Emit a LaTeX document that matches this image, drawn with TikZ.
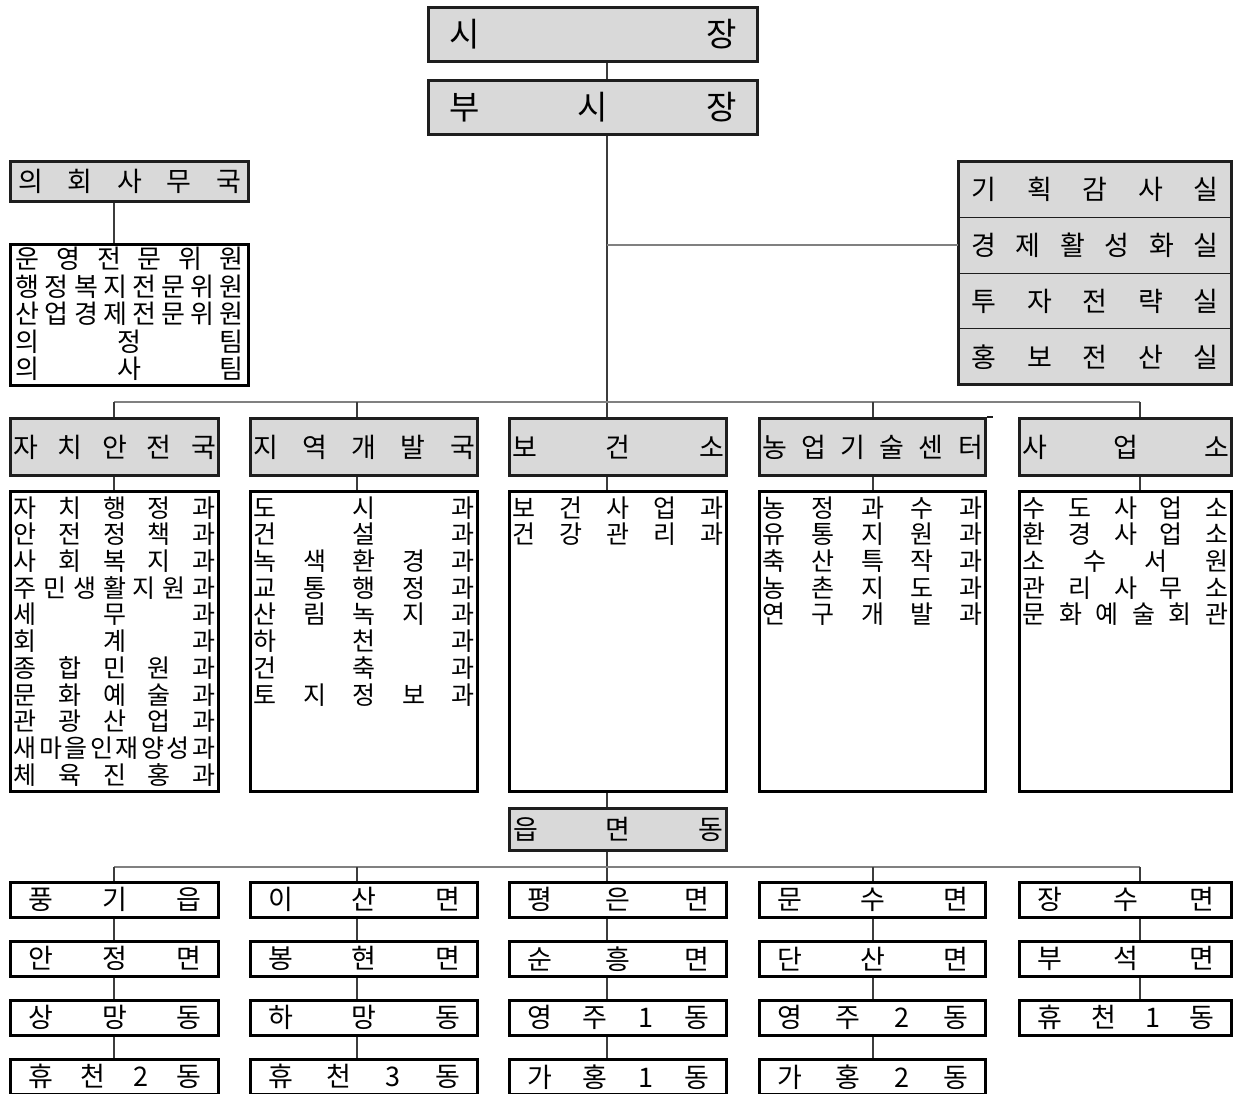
\documentclass[tikz,border=0pt]{standalone}
\usepackage{fontspec}
\setmainfont{Noto Sans CJK KR}
\usetikzlibrary{
  positioning,
  fit
}
\definecolor{orgFill}{RGB}{217,217,217}
\definecolor{orgEdge}{RGB}{30,30,30}
\definecolor{orgLink}{RGB}{60,60,60}
\definecolor{orgBus}{RGB}{128,128,128}

% spread the letters of a label over a fixed width
\def\sprdA#1{#1\sprdB}
\def\sprdB#1{\ifx\relax#1\else\hfill#1\expandafter\sprdB\fi}
\newcommand\sprd[2]{\hbox to #1{\sprdA#2\relax}}
\newcommand\rowtxt[1]{\sprd{\hsize}{#1}}
\newcommand\listtext[3]{\vbox to #2{\hsize=#1\relax #3\vss}}

\tikzset{
  topbox/.style={
    draw=orgEdge,
    line width=2.6pt,
    fill=orgFill,
    inner sep=0pt,
    anchor=north west,
    minimum width=329.4pt,
    minimum height=54.4pt,
    font=\fontsize{33}{35}\selectfont
  },
  headbox/.style={
    draw=orgEdge,
    line width=2.6pt,
    fill=orgFill,
    inner sep=0pt,
    anchor=north west,
    minimum height=57.4pt,
    font=\fontsize{27}{29}\selectfont
  },
  listbox/.style={
    draw=black,
    line width=2.6pt,
    fill=white,
    inner sep=0pt,
    minimum height=300.4pt,
    font=\fontsize{25}{26.7}\selectfont
  },
  officerow/.style={
    draw=orgEdge,
    line width=0.9pt,
    fill=orgFill,
    inner sep=0pt,
    outer sep=0pt,
    minimum width=273.4pt,
    minimum height=55.85pt,
    font=\fontsize{27}{29}\selectfont
  },
  officeframe/.style={
    draw=orgEdge,
    line width=2.6pt,
    inner sep=0pt
  },
  townbox/.style={
    draw=black,
    line width=2.6pt,
    fill=white,
    inner sep=0pt,
    minimum height=34.9pt,
    font=\fontsize{27}{29}\selectfont
  },
  orglink/.style={
    draw=orgLink,
    line width=1.1pt
  },
  busline/.style={
    draw=orgBus,
    line width=1.5pt
  }
}

\begin{document}
\begin{tikzpicture}[x=1pt, y=-1pt]
  \path[use as bounding box, fill=white] (0,0) rectangle (1236,1094);

  % mayor and deputy
  \node[topbox] (mayor) at (427,6) {\sprd{288pt}{시장}};
  \node[topbox] (vicemayor) at (427,79) {\sprd{288pt}{부시장}};

  % council office
  \node[headbox, minimum width=238.4pt, minimum height=40.4pt] (council) at (9,160) {\sprd{223pt}{의회사무국}};
  \node[listbox, anchor=north west, minimum width=238.4pt, minimum height=141.4pt,
    font=\fontsize{26}{27.5}\selectfont] (councilstaff) at (9,243)
    {\listtext{227pt}{136pt}{\rowtxt{운영전문위원}\rowtxt{행정복지전문위원}\rowtxt{산업경제전문위원}\rowtxt{의정팀}\rowtxt{의사팀}}};

  % offices under the deputy
  \node[officerow, anchor=north west] (audit) at (958.3,161.3) {\sprd{247pt}{기획감사실}};
  \node[officerow, below=0pt of audit] (economy) {\sprd{247pt}{경제활성화실}};
  \node[officerow, below=0pt of economy] (invest) {\sprd{247pt}{투자전략실}};
  \node[officerow, below=0pt of invest] (promo) {\sprd{247pt}{홍보전산실}};
  \node[officeframe, fit=(audit)(promo)] (offices) {};

  % bureaus
  \node[headbox, minimum width=208.4pt] (safety) at (9,417) {\sprd{203pt}{자치안전국}};
  \node[headbox, minimum width=227.4pt] (regional) at (249,417) {\sprd{222pt}{지역개발국}};
  \node[headbox, minimum width=217.4pt] (health) at (508,417) {\sprd{212pt}{보건소}};
  \node[headbox, minimum width=226.4pt] (agri) at (758,417) {\sprd{221pt}{농업기술센터}};
  \node[headbox, minimum width=212.4pt] (works) at (1018,417) {\sprd{207pt}{사업소}};
  \draw[orgEdge, line width=2.6pt] (agri.north east) -- ++(6,0);

  \node[listbox, minimum width=208.4pt, below=13pt of safety] (safetylist)
    {\listtext{202pt}{290pt}{\rowtxt{자치행정과}\rowtxt{안전정책과}\rowtxt{사회복지과}\rowtxt{주민생활지원과}\rowtxt{세무과}\rowtxt{회계과}\rowtxt{종합민원과}\rowtxt{문화예술과}\rowtxt{관광산업과}\rowtxt{새마을인재양성과}\rowtxt{체육진홍과}}};
  \node[listbox, minimum width=227.4pt, below=13pt of regional] (regionallist)
    {\listtext{221pt}{290pt}{\rowtxt{도시과}\rowtxt{건설과}\rowtxt{녹색환경과}\rowtxt{교통행정과}\rowtxt{산림녹지과}\rowtxt{하천과}\rowtxt{건축과}\rowtxt{토지정보과}}};
  \node[listbox, minimum width=217.4pt, below=13pt of health] (healthlist)
    {\listtext{211pt}{290pt}{\rowtxt{보건사업과}\rowtxt{건강관리과}}};
  \node[listbox, minimum width=226.4pt, below=13pt of agri] (agrilist)
    {\listtext{220pt}{290pt}{\rowtxt{농정과수과}\rowtxt{유통지원과}\rowtxt{축산특작과}\rowtxt{농촌지도과}\rowtxt{연구개발과}}};
  \node[listbox, minimum width=212.4pt, below=13pt of works] (workslist)
    {\listtext{206pt}{290pt}{\rowtxt{수도사업소}\rowtxt{환경사업소}\rowtxt{소수서원}\rowtxt{관리사무소}\rowtxt{문화예술회관}}};

  % towns and districts
  \node[headbox, minimum width=217.4pt, minimum height=42.4pt] (towns) at (508,807) {\sprd{210pt}{읍면동}};

  \node[townbox, anchor=north west, minimum width=208.4pt] (pungi) at (9,881) {\sprd{173pt}{풍기읍}};
  \node[townbox, minimum width=208.4pt, below=21.5pt of pungi] (anjeong) {\sprd{173pt}{안정면}};
  \node[townbox, minimum width=208.4pt, below=21.5pt of anjeong] (sangmang) {\sprd{173pt}{상망동}};
  \node[townbox, minimum width=208.4pt, below=21.5pt of sangmang] (hyucheonB) {\sprd{173pt}{휴천2동}};

  \node[townbox, anchor=north west, minimum width=227.4pt] (isan) at (249,881) {\sprd{192pt}{이산면}};
  \node[townbox, minimum width=227.4pt, below=21.5pt of isan] (bonghyeon) {\sprd{192pt}{봉현면}};
  \node[townbox, minimum width=227.4pt, below=21.5pt of bonghyeon] (hamang) {\sprd{192pt}{하망동}};
  \node[townbox, minimum width=227.4pt, below=21.5pt of hamang] (hyucheonC) {\sprd{192pt}{휴천3동}};

  \node[townbox, anchor=north west, minimum width=217.4pt] (pyeongeun) at (508,881) {\sprd{182pt}{평은면}};
  \node[townbox, minimum width=217.4pt, below=21.5pt of pyeongeun] (sunheung) {\sprd{182pt}{순흥면}};
  \node[townbox, minimum width=217.4pt, below=21.5pt of sunheung] (yeongjuA) {\sprd{182pt}{영주1동}};
  \node[townbox, minimum width=217.4pt, below=21.5pt of yeongjuA] (gaheungA) {\sprd{182pt}{가홍1동}};

  \node[townbox, anchor=north west, minimum width=226.4pt] (munsu) at (758,881) {\sprd{191pt}{문수면}};
  \node[townbox, minimum width=226.4pt, below=21.5pt of munsu] (dansan) {\sprd{191pt}{단산면}};
  \node[townbox, minimum width=226.4pt, below=21.5pt of dansan] (yeongjuB) {\sprd{191pt}{영주2동}};
  \node[townbox, minimum width=226.4pt, below=21.5pt of yeongjuB] (gaheungB) {\sprd{191pt}{가홍2동}};

  \node[townbox, anchor=north west, minimum width=212.4pt] (jangsu) at (1018,881) {\sprd{177pt}{장수면}};
  \node[townbox, minimum width=212.4pt, below=21.5pt of jangsu] (buseok) {\sprd{177pt}{부석면}};
  \node[townbox, minimum width=212.4pt, below=21.5pt of buseok] (hyucheonA) {\sprd{177pt}{휴천1동}};

  % drop points on the two buses
  \coordinate (colA) at (114,402);
  \coordinate (colB) at (357,402);
  \coordinate (colC) at (607,402);
  \coordinate (colD) at (873,402);
  \coordinate (colE) at (1140,402);
  \coordinate (lowA) at (114,867);
  \coordinate (lowB) at (357,867);
  \coordinate (lowD) at (873,867);
  \coordinate (lowE) at (1140,867);

  % trunk
  \draw[orglink] (mayor.south -| colC) -- (vicemayor.north -| colC);
  \draw[orglink] (vicemayor.south -| colC) -- (health.north -| colC);
  \draw[busline] (colC |- economy.west) -- (economy.west);
  \draw[orglink] (council.south -| colA) -- (councilstaff.north -| colA);

  % bureaus
  \draw[busline] (colA) -- (colE);
  \draw[orglink] (colA) -- (colA |- safety.north);
  \draw[orglink] (colB) -- (colB |- regional.north);
  \draw[orglink] (colD) -- (colD |- agri.north);
  \draw[orglink] (colE) -- (colE |- works.north);
  \draw[orglink] (safety.south -| colA) -- (safetylist.north -| colA);
  \draw[orglink] (regional.south -| colB) -- (regionallist.north -| colB);
  \draw[orglink] (health.south -| colC) -- (healthlist.north -| colC);
  \draw[orglink] (agri.south -| colD) -- (agrilist.north -| colD);
  \draw[orglink] (works.south -| colE) -- (workslist.north -| colE);

  % towns
  \draw[orglink] (healthlist.south -| colC) -- (towns.north -| colC);
  \draw[orglink] (towns.south -| colC) -- (pyeongeun.north -| colC);
  \draw[busline] (lowA) -- (lowE);
  \draw[orglink] (lowA) -- (lowA |- pungi.north);
  \draw[orglink] (lowB) -- (lowB |- isan.north);
  \draw[orglink] (lowD) -- (lowD |- munsu.north);
  \draw[orglink] (lowE) -- (lowE |- jangsu.north);

  \draw[orglink] (pungi.south -| lowA) -- (anjeong.north -| lowA);
  \draw[orglink] (anjeong.south -| lowA) -- (sangmang.north -| lowA);
  \draw[orglink] (sangmang.south -| lowA) -- (hyucheonB.north -| lowA);
  \draw[orglink] (isan.south -| lowB) -- (bonghyeon.north -| lowB);
  \draw[orglink] (bonghyeon.south -| lowB) -- (hamang.north -| lowB);
  \draw[orglink] (hamang.south -| lowB) -- (hyucheonC.north -| lowB);
  \draw[orglink] (pyeongeun.south -| colC) -- (sunheung.north -| colC);
  \draw[orglink] (sunheung.south -| colC) -- (yeongjuA.north -| colC);
  \draw[orglink] (yeongjuA.south -| colC) -- (gaheungA.north -| colC);
  \draw[orglink] (munsu.south -| lowD) -- (dansan.north -| lowD);
  \draw[orglink] (dansan.south -| lowD) -- (yeongjuB.north -| lowD);
  \draw[orglink] (yeongjuB.south -| lowD) -- (gaheungB.north -| lowD);
  \draw[orglink] (jangsu.south -| lowE) -- (buseok.north -| lowE);
  \draw[orglink] (buseok.south -| lowE) -- (hyucheonA.north -| lowE);
\end{tikzpicture}
\end{document}
